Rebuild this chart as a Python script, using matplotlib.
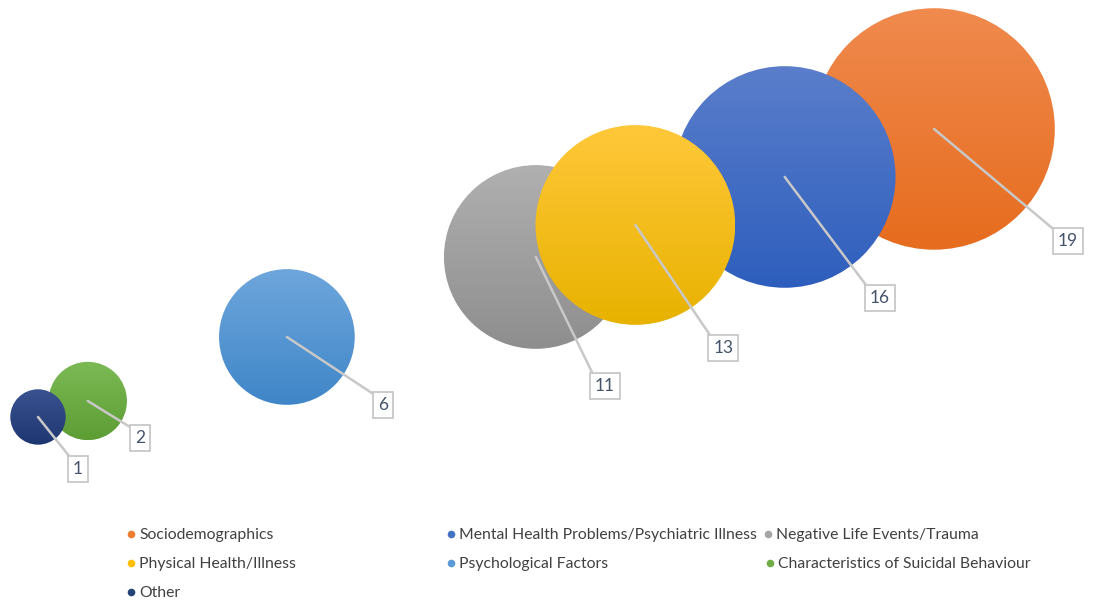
#!/usr/bin/env python3

import numpy as np
import matplotlib
matplotlib.use("Agg")
from matplotlib import pyplot as plt
from matplotlib.patches import Ellipse

# series, in the order the chart draws them (later ones sit on top)
categories = [
	"Sociodemographics",
	"Mental Health Problems/Psychiatric Illness",
	"Negative Life Events/Trauma",
	"Physical Health/Illness",
	"Psychological Factors",
	"Characteristics of Suicidal Behaviour",
	"Other",
]
x_values = [19, 16, 11, 13, 6, 2, 1]
y_values = [19, 16, 11, 13, 6, 2, 1]
sizes = [19, 16, 11, 13, 6, 2, 1]

# (top colour, bottom colour) of each bubble's gradient
colours = [
	("#f08a4e", "#e66c1e"),
	("#5a7ecb", "#2e5ebd"),
	("#b0b0b0", "#8e8e8e"),
	("#ffc83a", "#e8b200"),
	("#6ea6dc", "#3f86c8"),
	("#7cba55", "#5d9d34"),
	("#3a5290", "#1e3670"),
]
legend_dot = ["#ed7d31", "#4472c4", "#a5a5a5", "#ffc000", "#5b9bd5", "#70ad47", "#264478"]

# label box offsets from bubble centre, in pixels (right, down)
label_offsets = [(134, 112), (95, 121), (69, 129), (88, 123), (96, 68), (52, 37), (40, 52)]

BUBBLE_SCALE = 27.7  # radius in pixels of a size-1 bubble
FONT = "Lato"
TEXT_COLOUR = "#404040"
LABEL_COLOUR = "#44546a"


def gradient_bubble(ax, x, y, r_px, top, bottom):
	sx = ax.transData.transform((1, 0))[0] - ax.transData.transform((0, 0))[0]
	sy = ax.transData.transform((0, 1))[1] - ax.transData.transform((0, 0))[1]
	dx, dy = r_px / sx, r_px / sy
	c0 = np.array(matplotlib.colors.to_rgb(bottom))
	c1 = np.array(matplotlib.colors.to_rgb(top))
	t = np.linspace(0, 1, 256)[:, None, None]
	grad = c0 * (1 - t) + c1 * t
	im = ax.imshow(grad, extent=[x - dx, x + dx, y - dy, y + dy], origin="lower",
			aspect="auto", interpolation="bilinear", zorder=2)
	clip = Ellipse((x, y), 2 * dx, 2 * dy, transform=ax.transData, facecolor="none", edgecolor="none")
	ax.add_patch(clip)
	im.set_clip_path(clip)


def plot_bubbles():
	fig = plt.figure(figsize=(10.95, 6.05), dpi=100)
	ax = fig.add_axes([0, 0, 1, 1])
	ax.set_xlim(0.2367, 22.233)
	ax.set_ylim(-10.75, 27.06)
	ax.set_autoscale_on(False)
	ax.axis("off")

	for i in range(len(categories)):
		r_px = BUBBLE_SCALE * np.sqrt(sizes[i])
		gradient_bubble(ax, x_values[i], y_values[i], r_px, colours[i][0], colours[i][1])

	for i in range(len(categories)):
		ox, oy = label_offsets[i]
		ax.annotate(str(sizes[i]), xy=(x_values[i], y_values[i]), xytext=(ox, -oy),
				textcoords="offset pixels", ha="center", va="center",
				fontsize=12.5, family=FONT, color=LABEL_COLOUR, zorder=5,
				bbox=dict(boxstyle="square,pad=0.28", fc="white", ec="#c4c4c4", lw=1.2),
				arrowprops=dict(arrowstyle="-", color="#c8c8c8", lw=1.8,
						shrinkA=0, shrinkB=0, relpos=(0.0, 1.0)))

	# legend, laid out row by row like the original
	lax = fig.add_axes([0, 0, 1, 1])
	lax.set_xlim(0, 1095)
	lax.set_ylim(605, 0)
	lax.axis("off")
	slots = [(131, 534), (451, 534), (768, 534), (131, 563), (451, 563), (770, 563), (131, 592)]
	for i, (lx, ly) in enumerate(slots):
		lax.plot([lx], [ly], marker="o", ms=5.5, color=legend_dot[i], mec="none")
		lax.text(lx + 8, ly + 1, categories[i], fontsize=11.3, family=FONT, color=TEXT_COLOUR,
				ha="left", va="center")

	plt.savefig("out.png", dpi=100)
	plt.close()


if __name__ == "__main__":
	plot_bubbles()
